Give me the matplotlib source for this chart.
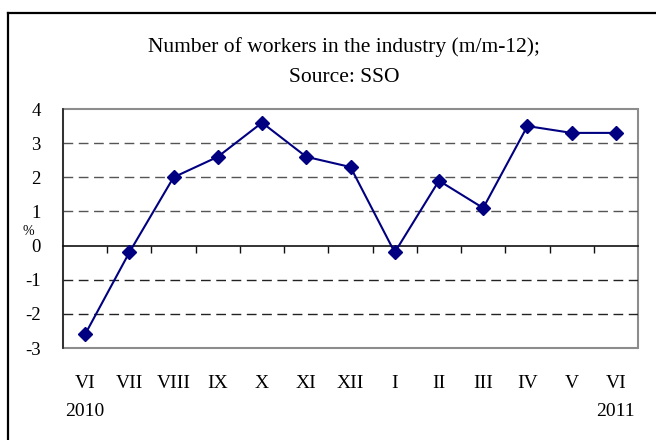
import matplotlib
matplotlib.use("Agg")
import matplotlib.pyplot as plt
from matplotlib.lines import Line2D
from matplotlib.patches import Rectangle
import matplotlib.transforms as mtransforms

months = ["VI", "VII", "VIII", "IX", "X", "XI", "XII", "I", "II", "III", "IV", "V", "VI"]
years = ["2010", "", "", "", "", "", "", "", "", "", "", "", "2011"]
values = [-2.6, -0.2, 2.0, 2.6, 3.6, 2.6, 2.3, -0.2, 1.9, 1.1, 3.5, 3.3, 3.3]
yticks = [4, 3, 2, 1, 0, -1, -2, -3]
title1 = "Number of workers in the industry (m/m-12);"
title2 = "Source: SSO"
ylabel = "%"

W, H = 656, 440
fig = plt.figure(figsize=(W / 100, H / 100), dpi=100)
fig.patch.set_facecolor("white")

serif = ["Liberation Serif", "DejaVu Serif"]

# plot area in pixels
L, R, T, B = 63, 638, 109, 348
ax = fig.add_axes([L / W, 1 - B / H, (R - L) / W, (B - T) / H])

x = list(range(len(values)))
ax.plot(x, values, color="#000080", lw=1.5, marker="D", markersize=7,
        markerfacecolor="#000080", markeredgecolor="#000080", zorder=5,
        clip_on=False)

ax.set_xlim(-0.5, len(values) - 0.5)
ax.set_ylim(-3, 4)

# dashed gridlines
for v in yticks:
    if v not in (0, 4, -3):
        col = "#555555" if v > 0 else "#222222"
        ax.axhline(v, color=col, lw=1.0, ls=(0, (7, 4)), zorder=1)

# spines
for s in ("top", "right"):
    ax.spines[s].set_visible(False)
ax.spines["left"].set_color("#222222")
ax.spines["left"].set_linewidth(1.2)
ax.spines["bottom"].set_position(("data", 0))
ax.spines["bottom"].set_color("#111111")
ax.spines["bottom"].set_linewidth(1.2)
ax.add_patch(Rectangle((0, 0), 1, 1, transform=ax.transAxes, fill=False,
                       edgecolor="#8c8c8c", lw=1.5, zorder=0, clip_on=False))

ax.set_xticks([i + 0.5 for i in range(len(values) - 1)])
ax.set_xticklabels([])
ax.tick_params(axis="x", direction="out", length=5, width=1.0, color="#111111")

ax.set_yticks(yticks)
ax.set_yticklabels([str(v) for v in yticks], fontfamily=serif, fontsize=13.5)
ax.tick_params(axis="y", length=0, pad=16)

trans = mtransforms.blended_transform_factory(ax.transData, fig.transFigure)
for i, (m, yr) in enumerate(zip(months, years)):
    ax.text(i, 1 - 383 / H, m, transform=trans, ha="center", va="center",
            fontfamily=serif, fontsize=14)
    if yr:
        ax.text(i, 1 - 411 / H, yr, transform=trans, ha="center", va="center",
                fontfamily=serif, fontsize=14)

fig.text(28 / W, 1 - 231 / H, ylabel, ha="center", va="center",
         fontfamily=serif, fontsize=10)

fig.text(344 / W, 1 - 47 / H, title1, ha="center", va="center",
         fontfamily=serif, fontsize=15.5)
fig.text(344 / W, 1 - 77 / H, title2, ha="center", va="center",
         fontfamily=serif, fontsize=15.5)

# outer frame (left and top visible)
fig.add_artist(Line2D([8 / W, 8 / W], [0, 1 - 13 / H], transform=fig.transFigure,
                      color="black", lw=1.6))
fig.add_artist(Line2D([8 / W, 1], [1 - 13 / H, 1 - 13 / H], transform=fig.transFigure,
                      color="black", lw=1.6))

fig.savefig("out.png", dpi=100, facecolor="white")
